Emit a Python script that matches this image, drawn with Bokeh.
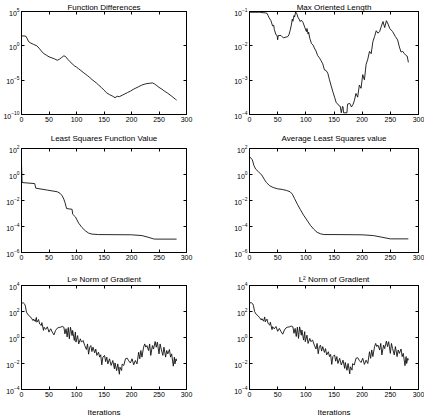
from bokeh.plotting import figure
from bokeh.layouts import gridplot
from bokeh.models import (FixedTicker, LinearAxis, LogAxis, Range1d,
                          CustomJSTickFormatter, LogTickFormatter)
from bokeh.embed import file_html
from bokeh.resources import INLINE

FONT = "Liberation Sans"

# ---------------- data ----------------
x_ticks = [0, 50, 100, 150, 200, 250, 300]

titles = ["Function Differences", "Max Oriented Length",
          "Least Squares Function Value", "Average Least Squares value",
          "L\u221e Norm of Gradient", "L\u00b2 Norm of Gradient"]
x_label = "Iterations"

# Function Differences
fd_iter = [0, 3, 8, 10, 13, 17, 22, 28, 32, 36, 40, 45, 50, 55, 60, 65, 69, 73, 77, 80,
           84, 88, 92, 96, 100, 104, 108, 112, 116, 120, 124, 128, 132, 136, 140, 145,
           150, 155, 160, 165, 170, 174, 178, 183, 188, 193, 198, 203, 208, 213, 218,
           223, 228, 233, 238, 242, 246, 250, 255, 260, 265, 270, 275, 280, 282]
fd_val = [28, 28, 25, 12.6, 4.0, 2.5, 1.6, 1.0, 0.45, 0.18, 0.079, 0.045, 0.025, 0.018,
          0.0126, 0.0079, 0.0112, 0.02, 0.035, 0.028, 0.0112, 0.005, 0.0025, 0.00126,
          7.9e-4, 4.5e-4, 2.5e-4, 1.4e-4, 7.9e-5, 4.5e-5, 2.5e-5, 1.26e-5, 7.1e-6, 4.0e-6,
          2.0e-6, 8.9e-7, 3.5e-7, 1.4e-7, 7.9e-8, 5.0e-8, 2.8e-8, 4.5e-8, 4.0e-8, 6.3e-8,
          1.0e-7, 1.6e-7, 2.5e-7, 4.5e-7, 7.1e-7, 1.12e-6, 1.8e-6, 2.5e-6, 3.2e-6, 3.5e-6,
          4.0e-6, 2.8e-6, 1.6e-6, 8.9e-7, 5.0e-7, 2.5e-7, 1.4e-7, 7.1e-8, 3.5e-8, 1.6e-8,
          1.26e-8]
fd_yticks = [1e-10, 1e-5, 1e0, 1e5]

# Max Oriented Length
mol_iter = [0, 10, 18, 22, 28, 31, 33, 35, 38, 41, 43, 44, 47, 49, 50, 51, 56, 60, 65, 68,
            70, 72, 74, 76, 77, 79, 80, 82, 83, 84, 86, 88, 90, 92, 95, 98, 101, 102, 104,
            105, 107, 110, 113, 115, 118, 121, 124, 127, 130, 133, 136, 139, 142, 145, 148,
            151, 154, 157, 160, 161, 163, 165, 166, 167, 173, 174, 178, 181, 184, 186, 189,
            192, 195, 198, 201, 204, 207, 210, 213, 216, 219, 222, 225, 228, 231, 234, 237,
            240, 243, 246, 249, 254, 259, 263, 266, 269, 272, 275, 278, 280, 282]
mol_val = [0.095, 0.095, 0.095, 0.093, 0.091, 0.089, 0.076, 0.065, 0.054, 0.038, 0.040,
           0.030, 0.021, 0.020, 0.015, 0.020, 0.020, 0.017, 0.018, 0.0186, 0.021, 0.0275,
           0.038, 0.060, 0.052, 0.076, 0.069, 0.098, 0.089, 0.087, 0.068, 0.060, 0.051,
           0.056, 0.048, 0.035, 0.026, 0.032, 0.022, 0.025, 0.0166, 0.0117, 0.0105, 0.0087,
           0.0071, 0.0052, 0.0045, 0.0037, 0.0030, 0.0020, 0.0019, 0.0016, 0.00102, 0.00068,
           0.00046, 0.00032, 0.00022, 0.0002, 0.000174, 0.000174, 0.000112, 0.00017, 0.00017,
           0.000112, 0.000112, 0.0002, 0.00021, 0.000166, 0.0002, 0.00025, 0.00041, 0.00032,
           0.00072, 0.00058, 0.00145, 0.00102, 0.0029, 0.0041, 0.0069, 0.0059, 0.0132,
           0.0186, 0.0275, 0.0234, 0.026, 0.037, 0.051, 0.034, 0.054, 0.043, 0.032, 0.026,
           0.0186, 0.0148, 0.0093, 0.0066, 0.0069, 0.0059, 0.0052, 0.0050, 0.0033]
mol_yticks = [1e-4, 1e-3, 1e-2, 1e-1]

# Least Squares Function Value
lsf_iter = [0, 1, 24, 26, 47, 65, 70, 74, 77, 79, 82, 92, 93, 98, 104, 110, 116, 122, 128,
            140, 200, 219, 230, 240, 243, 282]
lsf_val = [6.3, 0.24, 0.2, 0.089, 0.063, 0.047, 0.036, 0.023, 0.0126, 0.0071, 0.0024,
           0.0021, 8.9e-4, 5.5e-4, 1.8e-4, 8.3e-5, 4.7e-5, 3.1e-5, 2.6e-5, 2.4e-5, 2.3e-5,
           2.0e-5, 1.5e-5, 1.12e-5, 1.07e-5, 1.07e-5]

# Average Least Squares value
als_iter = [0, 5, 8, 11, 16, 22, 26, 30, 36, 42, 50, 58, 66, 72, 76, 80, 85, 90, 96, 102,
            108, 114, 120, 126, 132, 150, 200, 220, 235, 250, 282]
als_val = [24, 13.5, 4.7, 2.6, 1.6, 0.89, 0.44, 0.24, 0.135, 0.1, 0.079, 0.071, 0.059,
           0.047, 0.031, 0.014, 0.0052, 0.0021, 7.4e-4, 3.1e-4, 1.26e-4, 6.2e-5, 3.6e-5,
           2.75e-5, 2.4e-5, 2.4e-5, 2.3e-5, 2.0e-5, 1.5e-5, 1.12e-5, 1.12e-5]
ls_yticks = [1e-6, 1e-4, 1e-2, 1e0, 1e2]

# Gradient norms
g_iter = [0, 3, 6, 7, 9, 12, 15, 18, 21, 22, 25, 27, 28, 31, 33, 36, 37, 40, 41, 44,
          47, 50, 53, 56, 59, 62, 65, 68, 71, 74, 77, 79, 81, 83, 85, 87, 89, 92, 93, 96,
          98, 99, 102, 104, 107, 109, 112, 115, 118, 120, 122, 124, 126, 128, 130, 133,
          135, 137, 140, 142, 144, 146, 148, 151, 153, 155, 157, 160, 163, 166, 169, 170,
          173, 175, 178, 179, 182, 183, 186, 189, 192, 195, 198, 201, 204, 207, 210, 213,
          215, 217, 219, 222, 224, 226, 228, 231, 233, 235, 238, 240, 243, 245, 247, 250,
          252, 254, 257, 259, 262, 264, 266, 269, 271, 273, 276, 278, 279, 281, 282]
linf_val = [440, 470, 360, 260, 90, 55, 44, 31, 20, 26, 17, 35, 15, 24, 11, 8.3, 14, 3.5,
            6.2, 4.2, 6.6, 2.6, 4.7, 2.6, 1.6, 3.5, 5.2, 5.9, 6.2, 7.0, 6.2, 1.9, 4.7, 1.1,
            5.9, 0.79, 6.2, 1.4, 3.5, 0.59, 2.6, 0.44, 1.4, 0.32, 0.79, 0.44, 0.59, 0.24,
            0.12, 0.32, 0.052, 0.18, 0.24, 0.083, 0.18, 0.066, 0.13, 0.042, 0.074, 0.031,
            0.047, 0.0079, 0.031, 0.042, 0.014, 0.031, 0.0093, 0.023, 0.0071, 0.017, 0.0039,
            0.011, 0.0028, 0.0093, 0.0015, 0.0052, 0.0029, 0.0089, 0.0071, 0.023, 0.026,
            0.016, 0.011, 0.023, 0.0079, 0.017, 0.0093, 0.074, 0.023, 0.1, 0.031, 0.18,
            0.32, 0.18, 0.24, 0.1, 0.32, 0.042, 0.24, 0.13, 0.49, 0.18, 0.44, 0.055, 0.32,
            0.13, 0.042, 0.18, 0.031, 0.1, 0.055, 0.12, 0.031, 0.055, 0.0062, 0.031, 0.0093,
            0.023, 0.016]
l2_val = [450, 480, 380, 280, 100, 60, 48, 33, 22, 28, 18, 38, 16, 26, 12, 9.0, 15, 4.0,
          6.8, 4.6, 7.0, 3.0, 5.0, 2.8, 1.8, 3.8, 5.6, 6.3, 6.6, 7.6, 6.6, 2.1, 5.0, 1.2,
          6.3, 0.85, 6.6, 1.5, 3.8, 0.63, 2.8, 0.48, 1.5, 0.35, 0.85, 0.48, 0.63, 0.26,
          0.13, 0.35, 0.056, 0.2, 0.26, 0.09, 0.2, 0.071, 0.14, 0.046, 0.08, 0.034,
          0.05, 0.0085, 0.034, 0.046, 0.015, 0.034, 0.01, 0.025, 0.0077, 0.018, 0.0042,
          0.012, 0.003, 0.01, 0.0016, 0.0056, 0.0031, 0.0096, 0.0077, 0.025, 0.028,
          0.017, 0.012, 0.025, 0.0085, 0.018, 0.01, 0.08, 0.025, 0.11, 0.034, 0.2,
          0.35, 0.2, 0.26, 0.11, 0.35, 0.046, 0.26, 0.14, 0.53, 0.2, 0.48, 0.06, 0.35,
          0.14, 0.046, 0.2, 0.034, 0.11, 0.06, 0.13, 0.034, 0.06, 0.0068, 0.034, 0.01,
          0.025, 0.018]
g_yticks = [1e-4, 1e-2, 1e0, 1e2, 1e4]


def blank():
    return CustomJSTickFormatter(code="return ''")


def make(xs, ys, yticks, title, title_standoff, width, height, bl, br, bt, bb, xlabel=None):
    p = figure(width=width, height=height, x_range=Range1d(0, 300),
               y_range=Range1d(min(yticks), max(yticks)), y_axis_type="log",
               output_backend="svg", toolbar_location=None,
               min_border_left=bl, min_border_right=br,
               min_border_top=bt, min_border_bottom=bb)
    p.title.text = title
    p.title.align = "center"
    p.title.text_font = FONT
    p.title.text_font_size = "8px"
    p.title.text_font_style = "normal"
    p.title.text_color = "black"
    p.title.standoff = title_standoff

    p.line(xs, ys, line_color="#111111", line_width=0.9)
    p.xgrid.visible = False
    p.ygrid.visible = False
    p.outline_line_color = "black"
    p.outline_line_alpha = 1.0
    p.outline_line_width = 1
    p.background_fill_color = "white"
    p.border_fill_color = "white"

    xa = p.xaxis[0]
    xa.ticker = FixedTicker(ticks=x_ticks)
    ya = p.yaxis[0]
    ya.ticker = FixedTicker(ticks=yticks)
    ya.formatter = LogTickFormatter()

    top = LinearAxis(ticker=FixedTicker(ticks=x_ticks), formatter=blank())
    right = LogAxis(ticker=FixedTicker(ticks=yticks), formatter=blank())
    p.add_layout(top, "above")
    p.add_layout(right, "right")

    for ax in (xa, ya, top, right):
        ax.major_tick_in = 3
        ax.major_tick_out = 0
        ax.minor_tick_in = 0
        ax.minor_tick_out = 0
        ax.axis_line_color = "black"
        ax.major_tick_line_color = "black"
        ax.major_label_text_font = FONT
        ax.major_label_text_font_size = "7px"
        ax.major_label_text_color = "black"
    top.major_label_standoff = 0
    right.major_label_standoff = 0
    xa.major_label_standoff = 2
    ya.major_label_standoff = 2

    if xlabel:
        xa.axis_label = xlabel
        xa.axis_label_text_font = FONT
        xa.axis_label_text_font_size = "8px"
        xa.axis_label_text_font_style = "normal"
        xa.axis_label_text_color = "black"
        xa.axis_label_standoff = 8
    return p


W = 212
p1 = make(fd_iter, fd_val, fd_yticks, titles[0], 0, W, 125, 17, 26, 10, 11)
p2 = make(mol_iter, mol_val, mol_yticks, titles[1], 0, W, 125, 37, 6, 10, 11)
p3 = make(lsf_iter, lsf_val, ls_yticks, titles[2], 11, W, 138, 17, 26, 23, 11)
p4 = make(als_iter, als_val, ls_yticks, titles[3], 11, W, 138, 37, 6, 23, 11)
p5 = make(g_iter, linf_val, g_yticks, titles[4], 4, W, 157, 17, 26, 22, 31, x_label)
p6 = make(g_iter, l2_val, g_yticks, titles[5], 4, W, 157, 37, 6, 22, 31, x_label)

grid = gridplot([[p1, p2], [p3, p4], [p5, p6]], toolbar_location=None)

open("out.html", "w").write(file_html(grid, INLINE))
